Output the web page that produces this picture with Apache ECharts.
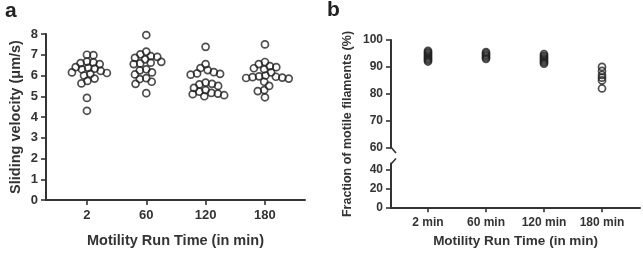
<!DOCTYPE html>
<html><head><meta charset="utf-8">
<script src="https://cdn.jsdelivr.net/npm/echarts@6/dist/echarts.min.js"></script>
<style>html,body{margin:0;padding:0;background:#fff}#c{width:643px;height:253px}</style>
</head><body><div id="c"></div>
<script>
// Panel a: sliding velocity (µm/s)
const catA = ['2', '60', '120', '180'];
const vel2 = [7.0, 6.98, 6.67, 6.55, 6.6, 6.63, 6.4, 6.37, 6.33, 6.3, 6.22, 6.15, 6.12, 6.08, 6.0, 5.85, 5.74, 5.62, 4.92, 4.3];
const vel60 = [7.95, 7.15, 7.02, 6.93, 6.9, 6.85, 6.78, 6.66, 6.62, 6.58, 6.55, 6.3, 6.25, 6.15, 6.05, 5.87, 5.83, 5.7, 5.6, 5.15];
const vel120 = [7.38, 6.55, 6.36, 6.26, 6.16, 6.1, 6.08, 6.04, 5.66, 5.6, 5.57, 5.5, 5.4, 5.3, 5.22, 5.16, 5.13, 5.1, 5.05, 5.0];
const vel180 = [7.5, 6.65, 6.55, 6.45, 6.4, 6.35, 6.3, 6.15, 6.0, 5.96, 5.94, 5.92, 5.9, 5.88, 5.85, 5.7, 5.5, 5.3, 5.25, 4.95];
// Panel b: fraction of motile filaments (%)
const catB = ['2 min', '60 min', '120 min', '180 min'];
const frac2 = [96.0, 95.5, 95.0, 94.5, 94.0, 93.5, 93.0, 92.5, 92.0];
const frac60 = [95.5, 95.0, 94.5, 94.0, 93.5, 93.0];
const frac120 = [94.8, 94.2, 93.7, 93.2, 92.7, 92.2, 91.7, 91.2];
const frac180 = [90.0, 88.5, 87.0, 86.0, 85.0, 82.0];
const ticksA = [0, 1, 2, 3];
const lowTicksB = [0, 20, 40];

// beeswarm layout (deterministic, collision based)
function swarm(vals, pxPerY, pxPerX, D) {
  const idx = vals.map((v, i) => i).sort((a, b) => vals[b] - vals[a]);
  const placed = [];
  const out = new Array(vals.length);
  let flip = 1;
  for (const i of idx) {
    const y = vals[i] * pxPerY;
    const cands = [0];
    for (const p of placed) {
      const dy = Math.abs(p.y - y);
      if (dy < D) { const dx = Math.sqrt(D * D - dy * dy); cands.push(p.x + dx, p.x - dx); }
    }
    cands.sort((a, b) => Math.abs(a) - Math.abs(b) || (a - b) * flip);
    flip = -flip;
    let chosen = 0;
    for (const c of cands) {
      if (placed.every(p => (p.x - c) ** 2 + (p.y - y) ** 2 >= D * D - 1e-6)) { chosen = c; break; }
    }
    placed.push({ x: chosen, y });
    out[i] = chosen / pxPerX;
  }
  return out;
}

const FONT = 'Liberation Sans, Arial, sans-serif';
const C = '#333';
const gA = { left: 46, top: 34, width: 259, height: 170 };
const pxYA = gA.height / 8, pxXA = 59.3;
const velGroups = [vel2, vel60, vel120, vel180];
const dataA = [];
velGroups.forEach((g, k) => {
  const offs = swarm(g, pxYA, pxXA, 6.5);
  g.forEach((v, i) => dataA.push([k + offs[i], v]));
});
const fracGroups = [frac2, frac60, frac120, frac180];
const dataB = [];
fracGroups.forEach((g, k) => g.forEach(v => dataB.push([k, v])));

const lbl = (size) => ({ fontSize: size, fontWeight: 'bold', color: C, fontFamily: FONT });
const axLine = { show: true, onZero: false, lineStyle: { color: C, width: 2 } };
const tick = (vals) => { const t = { show: true, length: 5, lineStyle: { color: C, width: 1.6 } }; if (vals) t.customValues = vals; return t; };
const marker = { symbol: 'circle', symbolSize: 7, itemStyle: { color: 'rgba(0,0,0,0)', borderColor: '#222', borderWidth: 1.7 } };

const chart = echarts.init(document.getElementById('c'), null, { renderer: 'canvas' });
chart.setOption({
  animation: false,
  grid: [
    gA,
    { left: 391, top: 40, width: 249, height: 107.7 },
    { left: 391, top: 163.6, width: 249, height: 43.7 }
  ],
  xAxis: [
    { type: 'value', gridIndex: 0, min: -0.69, max: 3.675, axisLine: axLine, axisTick: tick(ticksA),
      axisLabel: Object.assign({ customValues: ticksA, margin: 9, formatter: v => catA[Math.round(v)] }, lbl(13)),
      splitLine: { show: false }, name: 'Motility Run Time (in min)', nameLocation: 'middle', nameGap: 33,
      nameTextStyle: lbl(14.5) },
    { type: 'value', gridIndex: 1, min: -0.638, max: 3.655, show: false },
    { type: 'value', gridIndex: 2, min: -0.638, max: 3.655, axisLine: axLine, axisTick: tick(ticksA),
      axisLabel: Object.assign({ customValues: ticksA, margin: 9, formatter: v => catB[Math.round(v)] }, lbl(12)),
      splitLine: { show: false }, name: 'Motility Run Time (in min)', nameLocation: 'middle', nameGap: 27,
      nameTextStyle: lbl(13.5) }
  ],
  yAxis: [
    { type: 'value', gridIndex: 0, min: 0, max: 8, interval: 1, axisLine: axLine, axisTick: tick(),
      axisLabel: Object.assign({ margin: 8 }, lbl(13)), splitLine: { show: false },
      name: 'Sliding velocity (μm/s)', nameLocation: 'middle', nameGap: 23, nameTextStyle: lbl(14.5) },
    { type: 'value', gridIndex: 1, min: 60, max: 100, interval: 10, axisLine: axLine, axisTick: tick(),
      axisLabel: Object.assign({ margin: 8 }, lbl(12)), splitLine: { show: false } },
    { type: 'value', gridIndex: 2, min: 0, max: 46, interval: 20, axisLine: axLine, axisTick: tick(lowTicksB),
      axisLabel: Object.assign({ margin: 8, customValues: lowTicksB }, lbl(12)), splitLine: { show: false } }
  ],
  series: [
    Object.assign({ type: 'scatter', xAxisIndex: 0, yAxisIndex: 0, data: dataA }, marker),
    Object.assign({ type: 'scatter', xAxisIndex: 1, yAxisIndex: 1, data: dataB }, marker)
  ],
  graphic: [
    { type: 'text', left: 5, top: 1, style: { text: 'a', font: 'bold 21px ' + FONT, fill: '#222' } },
    { type: 'text', left: 327, top: 0, style: { text: 'b', font: 'bold 21px ' + FONT, fill: '#222' } },
    { type: 'text', x: 348, y: 124, rotation: Math.PI / 2,
      style: { text: 'Fraction of motile filaments (%)', font: 'bold 12.5px ' + FONT, fill: C, align: 'center', verticalAlign: 'middle' } },
    { type: 'line', shape: { x1: 391, y1: 147.2, x2: 396, y2: 153 }, style: { stroke: C, lineWidth: 1.6 } },
    { type: 'line', shape: { x1: 391, y1: 164, x2: 396, y2: 158.5 }, style: { stroke: C, lineWidth: 1.6 } }
  ]
});
</script></body></html>
